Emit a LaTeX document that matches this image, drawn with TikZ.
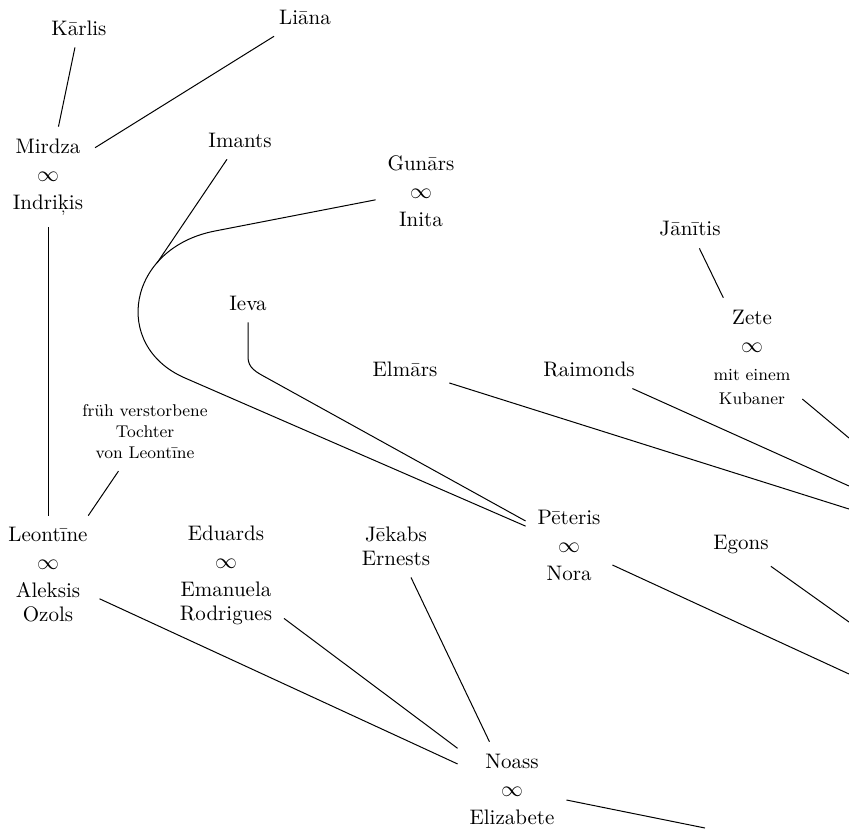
\documentclass[tikz,border=0pt]{standalone}
\usepackage{amsmath}
\usepackage{amssymb}
\usepackage{tikz}

\begin{document}
\begin{tikzpicture}[
    x=0.5pt, y=-0.5pt,
    person/.style={align=center, inner sep=3pt, outer sep=3pt, font=\fontsize{10.5}{12}\selectfont},
    note/.style={person, font=\fontsize{8.5}{10.5}\selectfont},
    edge/.style={line width=0.5pt, -}
]
\useasboundingbox (0,0) rectangle (849,829);

% Define persons
\node[person] (karlis) at (79, 28) {Kārlis};
\node[person] (liana) at (305, 17) {Liāna};
\node[person] (mirdza) at (48, 177) {Mirdza\\[2pt]$\infty$\\[2pt]Indriķis};
\node[person] (imants) at (240, 140) {Imants};
\node[person] (gunars) at (421, 191) {Gunārs\\[2pt]$\infty$\\[2pt]Inita};
\node[person] (janitis) at (690, 229) {Jānītis};
\node[person] (ieva) at (248, 303) {Ieva};
\node[person] (zete) at (752, 357) {Zete\\[2pt]$\infty$\\[2pt]\fontsize{8.5}{10.5}\selectfont mit einem\\\fontsize{8.5}{10.5}\selectfont Kubaner};
\node[person] (elmars) at (405, 369) {Elmārs};
\node[person] (raimonds) at (589, 369) {Raimonds};
\node[note] (fruh) at (145, 432) {früh verstorbene\\Tochter\\von Leontīne};
\node[person] (leontine) at (48, 575) {Leontīne\\[2pt]$\infty$\\[2pt]Aleksis\\Ozols};
\node[person] (eduards) at (226, 575) {Eduards\\[2pt]$\infty$\\[2pt]Emanuela\\Rodrigues};
\node[person] (jekabs) at (396, 546) {Jēkabs\\Ernests};
\node[person] (peteris) at (569, 545) {Pēteris\\[2pt]$\infty$\\[2pt]Nora};
\node[person] (egons) at (741, 545) {Egons};
\node[person] (noass) at (512, 789) {Noass\\[2pt]$\infty$\\[2pt]Elizabete};

% Free ends
\coordinate (imantsend) at (157, 263);
\coordinate (elmarsend) at (849, 509);
\coordinate (raimondsend) at (849, 486);
\coordinate (zeteend) at (849, 438);
\coordinate (egonsend) at (849, 622);
\coordinate (noraend) at (849, 674);
\coordinate (elizabeteend) at (705, 828);

% Define edges
\draw[edge] (karlis) -- (mirdza);
\draw[edge] (liana) -- (mirdza);
\draw[edge] (mirdza) -- (leontine);
\draw[edge] (imants) -- (imantsend);
\draw[edge] (gunars) -- (215, 231) .. controls (127, 248) and (111, 346) .. (185, 378) -- (peteris);
\draw[edge] (ieva) -- (248, 357) .. controls (248, 368) and (256, 372) .. (267, 378) -- (peteris);
\draw[edge] (janitis) -- (zete);
\draw[edge] (zete) -- (zeteend);
\draw[edge] (elmars) -- (elmarsend);
\draw[edge] (raimonds) -- (raimondsend);
\draw[edge] (fruh) -- (leontine);
\draw[edge] (leontine) -- (noass);
\draw[edge] (eduards) -- (noass);
\draw[edge] (jekabs) -- (noass);
\draw[edge] (peteris) -- (noraend);
\draw[edge] (egons) -- (egonsend);
\draw[edge] (noass) -- (elizabeteend);

\end{tikzpicture}
\end{document}
